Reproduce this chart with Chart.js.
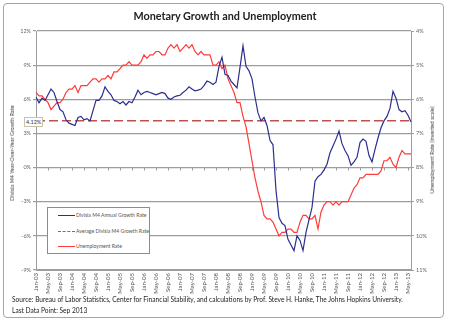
<!DOCTYPE html>
<html>
<head>
<meta charset="utf-8">
<script src="https://cdn.jsdelivr.net/npm/chart.js@4.4.0/dist/chart.umd.min.js"></script>
<style>
  body { margin: 0; background: #fff; }
  #wrap { position: relative; width: 450px; height: 322px; font-family: Lato, "Liberation Sans", sans-serif; color: #333; }
  #frame { position: absolute; left: 3px; top: 3px; width: 441px; height: 315px; border: 1px solid #a6a6a6; border-radius: 4px; box-sizing: border-box; }
  canvas { position: absolute; left: 0; top: 0; }
  .title { position: absolute; left: 0; width: 450px; top: 9px; text-align: center; font-size: 10.8px; font-weight: bold; color: #222; }
  .ytitle { position: absolute; font-size: 5.5px; color: #444; white-space: nowrap; transform: translate(-50%, -50%) rotate(-90deg); }
  #avgTag { position: absolute; left: 24px; top: 117px; padding: 0 1px; font-size: 5.5px; line-height: 8px; background: #fff; border: 1px solid #c9c4a8; color: #333; }
  #legend { position: absolute; left: 47px; top: 207px; width: 103px; height: 47px; box-sizing: border-box; border: 1px solid #8c8c8c; background: #fff; }
  .item { position: absolute; left: 10px; height: 6px; font-size: 5.1px; line-height: 6px; color: #555; white-space: nowrap; }
  .swatch { display: inline-block; width: 17px; height: 0; vertical-align: middle; margin-right: 1px; }
  .source { position: absolute; left: 12px; font-size: 6.6px; color: #222; white-space: nowrap; }
</style>
</head>
<body>
<div id="wrap">
  <div id="frame"></div>
  <canvas id="chart" width="450" height="322"></canvas>
  <div class="title">Monetary Growth and Unemployment</div>
  <div class="ytitle" style="left:12px; top:153px;">Divisia M4 Year-Over-Year Growth Rate</div>
  <div class="ytitle" style="left:432px; top:150px;">Unemployment Rate (inverted scale)</div>
  <div id="avgTag">4.12%</div>
  <div id="legend">
    <div class="item" style="top:4px;"><span class="swatch" style="border-top:1.3px solid #2b2f8f;"></span>Divisia M4 Annual Growth Rate</div>
    <div class="item" style="top:20px;"><span class="swatch" style="border-top:1.5px dashed #c0504d;"></span>Average Divisia M4 Growth Rate</div>
    <div class="item" style="top:35px;"><span class="swatch" style="border-top:1.3px solid #ff3b3b;"></span>Unemployment Rate</div>
  </div>
  <div class="source" style="top:295px;">Source: Bureau of Labor Statistics, Center for Financial Stability, and calculations by Prof. Steve H. Hanke, The Johns Hopkins University.</div>
  <div class="source" style="top:306px;">Last Data Point: Sep 2013</div>
</div>
<script>
// month labels, Jan-03 .. Jun-13
const monthNames = ["Jan", "Feb", "Mar", "Apr", "May", "Jun", "Jul", "Aug", "Sep", "Oct", "Nov", "Dec"];
const yearCodes = ["03", "04", "05", "06", "07", "08", "09", "10", "11", "12", "13"];
const months = [];
yearCodes.forEach((yy) => monthNames.forEach((m) => months.push(m + "-" + yy)));
months.length = 126;

// Divisia M4 year-over-year growth (%), left axis
const m4Growth = [
  6.2, 5.7, 6.1, 5.9, 6.4, 6.9, 6.6, 5.8, 5.1, 4.9, 4.2, 3.9, 3.8, 3.7, 4.4, 4.5, 4.2, 4.3, 4.1, 5.0,
  5.9, 5.9, 6.3, 7.1, 6.7, 6.4, 5.9, 5.8, 5.6, 5.8, 5.5, 5.8, 5.7, 6.2, 6.8, 6.4, 6.6, 6.7, 6.6, 6.5,
  6.4, 6.5, 6.6, 6.5, 6.1, 6.0, 6.2, 6.3, 6.35, 6.6, 6.8, 7.1, 6.9, 6.75, 6.8, 6.9, 7.2, 7.6, 7.5, 7.3,
  7.5, 8.9, 9.7, 8.2, 8.1, 7.6, 7.3, 7.0, 8.8, 10.7, 8.9, 8.5, 7.8, 6.2, 4.8, 4.1, 4.4, 3.7, 2.4, 2.0,
  -2.0, -4.4, -4.9, -5.1, -6.3, -6.8, -7.3, -6.0, -6.4, -7.3, -5.7, -4.6, -3.5, -1.2, -0.8, -0.6, -0.2, 0.3, 1.3, 1.9,
  2.5, 3.2, 2.1, 1.5, 1.05, 0.2, 0.5, 0.9, 2.2, 2.5, 2.3, 1.05, 0.5, 1.6, 2.6, 3.5, 4.1, 4.5, 5.2, 6.7,
  6.1, 5.1, 4.9, 5.0, 4.6, 4.0
];

// unemployment rate (%), right axis (inverted)
const unemployment = [
  5.8, 5.9, 5.9, 6.0, 6.1, 6.3, 6.2, 6.1, 6.1, 6.0, 5.8, 5.7,
  5.7, 5.6, 5.8, 5.6, 5.6, 5.6, 5.5, 5.4, 5.4, 5.5, 5.4, 5.4,
  5.3, 5.4, 5.2, 5.2, 5.1, 5.0, 5.0, 4.9, 5.0, 5.0, 5.0, 4.9,
  4.7, 4.8, 4.7, 4.7, 4.6, 4.6, 4.7, 4.7, 4.5, 4.4, 4.5, 4.4,
  4.6, 4.5, 4.4, 4.5, 4.4, 4.6, 4.7, 4.6, 4.7, 4.7, 4.7, 5.0,
  5.0, 4.9, 5.1, 5.0, 5.4, 5.6, 5.8, 6.1, 6.1, 6.5, 6.8, 7.3,
  7.8, 8.3, 8.7, 9.0, 9.4, 9.5, 9.5, 9.6, 9.8, 10.0, 9.9, 9.9,
  9.8, 9.8, 9.9, 9.9, 9.6, 9.4, 9.4, 9.5, 9.5, 9.4, 9.8, 9.3,
  9.1, 9.0, 9.0, 9.1, 9.0, 9.1, 9.0, 9.0, 9.0, 8.8, 8.6, 8.5,
  8.3, 8.3, 8.2, 8.2, 8.2, 8.2, 8.2, 8.1, 7.8, 7.8, 7.7, 7.9,
  8.0, 7.7, 7.5, 7.6, 7.6, 7.6
];

const avgGrowth = 4.12;
const leftTicks = [-9, -6, -3, 0, 3, 6, 9, 12];
const rightTicks = [4, 5, 6, 7, 8, 9, 10, 11];

const gridGray = "#9d9d9d";
const small = { family: "Lato, 'Liberation Sans', sans-serif", size: 5.5 };

// little tick marks on the 0% line, every 4 months
const zeroTicks = {
  id: "zeroTicks",
  beforeDatasetsDraw(chart) {
    const { ctx, scales } = chart;
    const y0 = scales.y.getPixelForValue(0);
    ctx.save();
    ctx.strokeStyle = gridGray;
    ctx.lineWidth = 1;
    for (let i = 0; i < months.length; i += 4) {
      const x = Math.round(scales.x.getPixelForValue(i)) + 0.5;
      ctx.beginPath();
      ctx.moveTo(x, y0);
      ctx.lineTo(x, y0 + 3);
      ctx.stroke();
    }
    ctx.restore();
  },
};

new Chart(document.getElementById("chart"), {
  type: "line",
  data: {
    labels: months,
    datasets: [
      {
        label: "Divisia M4 Annual Growth Rate",
        data: m4Growth,
        yAxisID: "y",
        borderColor: "#2b2f8f",
        borderWidth: 1.2,
        pointRadius: 0,
      },
      {
        label: "Unemployment Rate",
        data: unemployment,
        yAxisID: "y2",
        borderColor: "#ff3b3b",
        borderWidth: 1.2,
        pointRadius: 0,
      },
      {
        label: "Average Divisia M4 Growth Rate",
        data: [
          { x: months[0], y: avgGrowth },
          { x: months[months.length - 1], y: avgGrowth },
        ],
        yAxisID: "y",
        borderColor: "#c0504d",
        borderDash: [9, 4],
        borderWidth: 1.5,
        pointRadius: 0,
      },
    ],
  },
  options: {
    responsive: false,
    animation: false,
    layout: { padding: { top: 31, left: 0, right: 0, bottom: 26 } },
    plugins: { legend: { display: false }, tooltip: { enabled: false } },
    scales: {
      x: {
        grid: { display: false, drawTicks: false, tickLength: 0 },
        border: { color: gridGray, width: 1 },
        ticks: {
          autoSkip: false,
          minRotation: 90,
          maxRotation: 90,
          padding: 3,
          font: { ...small, size: 6 },
          color: "#555",
          callback: (v, i) => (i % 4 === 0 ? months[i] : null),
        },
        afterFit: (s) => { s.height = 26; },
      },
      y: {
        position: "left",
        min: leftTicks[0],
        max: leftTicks[leftTicks.length - 1],
        afterBuildTicks: (s) => { s.ticks = leftTicks.map((v) => ({ value: v })); },
        ticks: { callback: (v) => v + "%", font: small, color: "#666", padding: 2 },
        grid: { color: gridGray, lineWidth: 1.2, tickLength: 3 },
        border: { color: gridGray },
        afterFit: (s) => { s.width = 36; },
      },
      y2: {
        position: "right",
        reverse: true,
        min: rightTicks[0],
        max: rightTicks[rightTicks.length - 1],
        afterBuildTicks: (s) => { s.ticks = rightTicks.map((v) => ({ value: v })); },
        ticks: { callback: (v) => v + "%", font: small, color: "#666", padding: 2 },
        grid: { drawOnChartArea: false, color: gridGray, tickLength: 3 },
        border: { color: gridGray },
        afterFit: (s) => { s.width = 39; },
      },
    },
  },
  plugins: [zeroTicks],
});
</script>
</body>
</html>
